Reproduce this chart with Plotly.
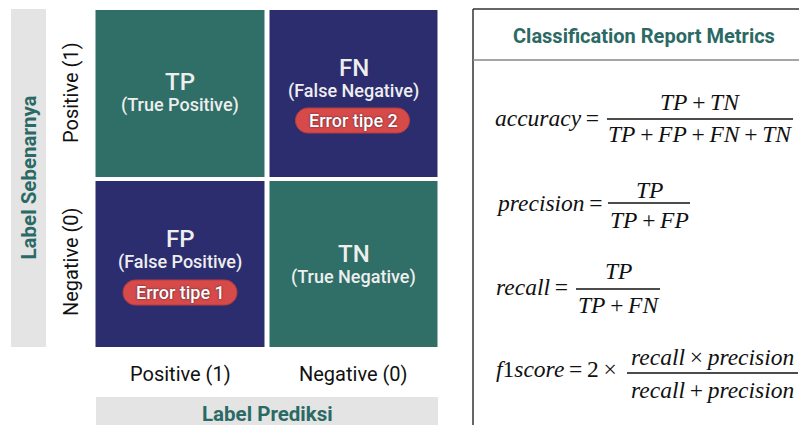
import plotly.graph_objects as go

# ---------------- data ----------------
pred_labels = ["Positive (1)", "Negative (0)"]
actual_labels = ["Positive (1)", "Negative (0)"]
match_matrix = [[1, 0], [0, 1]]  # 1 = correct prediction, 0 = error
cell_codes = [["TP", "FN"], ["FP", "TN"]]
cell_names = [["(True Positive)", "(False Negative)"], ["(False Positive)", "(True Negative)"]]
cell_errors = [["", "Error tipe 2"], ["Error tipe 1", ""]]
axis_title_actual = "Label Sebenarnya"
axis_title_pred = "Label Prediksi"
panel_title = "Classification Report Metrics"
TS = "&#8201;"  # thin space
metric_lhs = ["<i>accuracy</i>" + TS + "=", "<i>precision</i>" + TS + "=", "<i>recall</i>" + TS + "=",
              "<i>f</i>1<i>score</i>" + TS + "=" + TS + "2" + TS + "×"]
metric_num = [f"<i>TP</i>{TS}+{TS}<i>TN</i>", "<i>TP</i>", "<i>TP</i>",
              f"<i>recall</i>{TS}×{TS}<i>precision</i>"]
metric_den = [f"<i>TP</i>{TS}+{TS}<i>FP</i>{TS}+{TS}<i>FN</i>{TS}+{TS}<i>TN</i>",
              f"<i>TP</i>{TS}+{TS}<i>FP</i>", f"<i>TP</i>{TS}+{TS}<i>FN</i>",
              f"<i>recall</i>{TS}+{TS}<i>precision</i>"]

# ---------------- style ----------------
W, H = 807, 425
OFF = 8  # page body margin: figure pixel 0 lands at window pixel 8
TEAL = "#2f6f67"
NAVY = "#2c2d6e"
GRAY = "#e4e4e4"
LABEL_TEAL = "#2b6a64"
PILL = "#d64a4a"
CELL_TXT = "#eeeeee"
FORM_TXT = "#111111"

fig = go.Figure()

fig.add_trace(go.Heatmap(
    z=match_matrix, x=pred_labels, y=actual_labels,
    colorscale=[[0, NAVY], [0.5, NAVY], [0.5, TEAL], [1, TEAL]],
    zmin=0, zmax=1, showscale=False, xgap=5, ygap=4,
    hoverinfo="skip", xaxis="x2", yaxis="y2",
))

# matrix placement (window pixels)
mx0, mx1, my0, my1 = 93.5, 440.5, 8, 349

shapes = []
annotations = []

# gray bars
shapes.append(dict(type="rect", xref="x", yref="y", x0=11, x1=46, y0=9, y1=347,
                   fillcolor=GRAY, line_width=0, layer="below"))
shapes.append(dict(type="rect", xref="x", yref="y", x0=96, x1=438, y0=397, y1=430,
                   fillcolor=GRAY, line_width=0, layer="below"))

annotations.append(dict(xref="x", yref="y", x=28.5, y=178, text=f"<b>{axis_title_actual}</b>",
                        textangle=-90, showarrow=False,
                        font=dict(family="Roboto", size=20.5, color=LABEL_TEAL)))
annotations.append(dict(xref="x", yref="y", x=267, y=414, text=f"<b>{axis_title_pred}</b>",
                        showarrow=False, font=dict(family="Roboto", size=20.5, color=LABEL_TEAL)))

# tick labels
row_y = [93, 262]
for i, lab in enumerate(actual_labels):
    annotations.append(dict(xref="x", yref="y", x=71, y=row_y[i], text=lab, textangle=-90,
                            showarrow=False, font=dict(family="Roboto", size=20, color="#111111")))
col_x = [180, 353.5]
for j, lab in enumerate(pred_labels):
    annotations.append(dict(xref="x", yref="y", x=col_x[j], y=374, text=lab,
                            showarrow=False, font=dict(family="Roboto", size=20, color="#111111")))

# cell texts (window-pixel centres; converted to shifts from the cell centres)
cell_cy = [(my0 + (my1 - my0) / 4), (my0 + 3 * (my1 - my0) / 4)]
code_y = [[82, 67.5], [238.5, 253.5]]
name_y = [[105, 90.5], [262, 277]]
pill_y = [[None, 120.5], [292.5, None]]


def pill_path(cx, cy, w, h):
    r = h / 2
    k = 0.5523 * r
    l, rr, t, b = cx - w / 2, cx + w / 2, cy - r, cy + r
    return (f"M {l+r},{t} L {rr-r},{t} C {rr-r+k},{t} {rr},{cy-k} {rr},{cy} "
            f"C {rr},{cy+k} {rr-r+k},{b} {rr-r},{b} L {l+r},{b} "
            f"C {l+r-k},{b} {l},{cy+k} {l},{cy} C {l},{cy-k} {l+r-k},{t} {l+r},{t} Z")


for i in range(2):
    for j in range(2):
        annotations.append(dict(xref="x2", yref="y2", x=pred_labels[j], y=actual_labels[i],
                                text=cell_codes[i][j], showarrow=False,
                                yshift=cell_cy[i] - code_y[i][j],
                                font=dict(family="Roboto", size=24, weight=500, color=CELL_TXT)))
        annotations.append(dict(xref="x2", yref="y2", x=pred_labels[j], y=actual_labels[i],
                                text=cell_names[i][j], showarrow=False,
                                yshift=cell_cy[i] - name_y[i][j],
                                font=dict(family="Roboto", size=18, weight=500, color=CELL_TXT)))
        if cell_errors[i][j]:
            cy = pill_y[i][j]
            shapes.append(dict(type="path", xref="x", yref="y",
                               path=pill_path(col_x[j] + (0 if j == 0 else -1), cy, 114, 25),
                               fillcolor=PILL, line=dict(color="#b83c3c", width=1)))
            annotations.append(dict(xref="x2", yref="y2", x=pred_labels[j], y=actual_labels[i],
                                    text=cell_errors[i][j], showarrow=False,
                                    yshift=cell_cy[i] - cy,
                                    font=dict(family="Roboto", size=18, weight=500, color="#ffffff",
                                              shadow="0px 0px 2px #3a1a2a")))

# right panel
shapes.append(dict(type="line", xref="x", yref="y", x0=473, x1=473, y0=9, y1=430,
                   line=dict(color="#333333", width=1.5)))
shapes.append(dict(type="line", xref="x", yref="y", x0=473, x1=815, y0=9, y1=9,
                   line=dict(color="#333333", width=1.5)))
shapes.append(dict(type="line", xref="x", yref="y", x0=473, x1=815, y0=60, y1=60,
                   line=dict(color="#888888", width=1.5)))
annotations.append(dict(xref="x", yref="y", x=644, y=36, text=f"<b>{panel_title}</b>",
                        showarrow=False, font=dict(family="Roboto", size=20, color=LABEL_TEAL)))

lhs_pos = [(493, 118), (494, 203), (494, 287), (494, 369)]
line_pos = [(607, 793, 119), (608, 690, 203), (576, 660, 289), (627, 798, 373)]
num_y = [102, 190, 271, 357]
den_y = [134, 220, 305, 390]
ffont = dict(family="Liberation Serif", size=23.5, color=FORM_TXT)
for k in range(len(metric_lhs)):
    annotations.append(dict(xref="x", yref="y", x=lhs_pos[k][0], y=lhs_pos[k][1], xanchor="left",
                            text=metric_lhs[k], showarrow=False, font=ffont))
    x0, x1, ly = line_pos[k]
    shapes.append(dict(type="line", xref="x", yref="y", x0=x0, x1=x1, y0=ly, y1=ly,
                       line=dict(color=FORM_TXT, width=1.4)))
    cx = (x0 + x1) / 2
    annotations.append(dict(xref="x", yref="y", x=cx, y=num_y[k], text=metric_num[k],
                            showarrow=False, font=ffont))
    annotations.append(dict(xref="x", yref="y", x=cx, y=den_y[k], text=metric_den[k],
                            showarrow=False, font=ffont))

fig.update_layout(
    width=W, height=H, margin=dict(l=0, r=0, t=0, b=0),
    paper_bgcolor="white", plot_bgcolor="rgba(0,0,0,0)",
    xaxis=dict(range=[OFF, W + OFF], visible=False, domain=[0, 1], fixedrange=True),
    yaxis=dict(range=[H + OFF, OFF], visible=False, domain=[0, 1], fixedrange=True),
    xaxis2=dict(domain=[(mx0 - OFF) / W, (mx1 - OFF) / W], anchor="y2", visible=False,
                fixedrange=True),
    yaxis2=dict(domain=[(H - (my1 - OFF)) / H, (H - (my0 - OFF)) / H], anchor="x2",
                autorange="reversed", visible=False, fixedrange=True),
    shapes=shapes, annotations=annotations, showlegend=False,
)

fig.write_html("out.html")
